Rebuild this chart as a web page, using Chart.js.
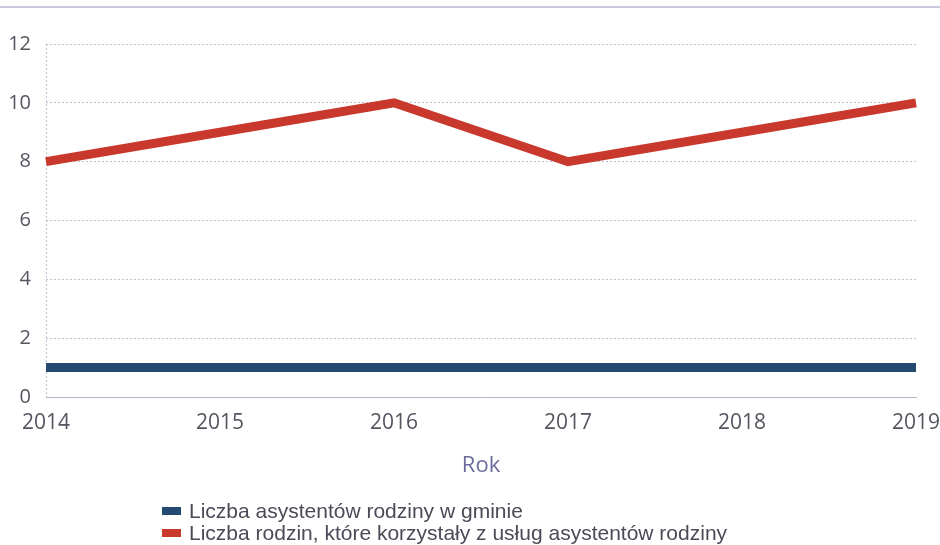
<!DOCTYPE html>
<html lang="pl">
<head>
<meta charset="utf-8">
<title>Asystenci rodziny</title>
<script src="https://cdn.jsdelivr.net/npm/chart.js@4.4.1/dist/chart.umd.min.js"></script>
<style>
  html, body { margin: 0; padding: 0; background: #ffffff; }
  #wrap { position: relative; width: 940px; height: 545px; overflow: hidden; }
  #topRule { position: absolute; left: 0; top: 6px; width: 940px; height: 2px; background: #c9cbdc; }
  #legend { position: absolute; left: 162px; top: 500px; font-family: "Liberation Sans", Arial, sans-serif; font-size: 21px; color: #4a4a58; line-height: 22px; }
  .item { display: flex; align-items: center; white-space: nowrap; }
  .swatch { display: inline-block; width: 19px; height: 8px; margin-right: 8px; }
</style>
</head>
<body>
<div id="wrap">
  <canvas id="lineChart" width="940" height="545"></canvas>
  <div id="topRule"></div>
  <div id="legend"></div>
</div>
<script>
// Years on the x axis
const years = ["2014", "2015", "2016", "2017", "2018", "2019"];

// Series values
const asystenci = [1, 1, 1, 1, 1, 1];
const rodziny = [8, 9, 10, 8, 9, 10];

const seriesLabels = [
  "Liczba asystentów rodziny w gminie",
  "Liczba rodzin, które korzystały z usług asystentów rodziny",
];
const seriesColors = ["#244a72", "#c8382d"];

const yTicks = [0, 2, 4, 6, 8, 10, 12];

document.addEventListener("DOMContentLoaded", function () {
  const ctx = document.getElementById("lineChart").getContext("2d");
  const gridColor = "rgba(150, 150, 180, 0.6)";

  new Chart(ctx, {
    type: "line",
    data: {
      labels: years,
      datasets: [
        {
          label: seriesLabels[0],
          data: asystenci,
          borderColor: seriesColors[0],
          borderWidth: 9,
          pointRadius: 0,
          borderCapStyle: "butt",
          tension: 0,
          clip: false,
        },
        {
          label: seriesLabels[1],
          data: rodziny,
          borderColor: seriesColors[1],
          borderWidth: 9,
          pointRadius: 0,
          borderCapStyle: "butt",
          borderJoinStyle: "miter",
          tension: 0,
          clip: false,
        },
      ],
    },
    options: {
      responsive: false,
      animation: false,
      layout: { padding: { top: 44, left: 0, right: 24, bottom: 62 } },
      plugins: {
        legend: { display: false },
        tooltip: { enabled: false },
      },
      scales: {
        x: {
          offset: false,
          afterFit: (scale) => {
            scale.height = 86;
            scale.paddingLeft = 0;
            scale.paddingRight = 0;
          },
          grid: {
            drawTicks: false,
            lineWidth: 1,
            color: (c) => (c.index === 0 ? gridColor : "rgba(0,0,0,0)"),
          },
          border: { display: true, color: "#b3b4c8", width: 1, dash: [2, 2] },
          ticks: {
            padding: 13,
            maxRotation: 0,
            color: "#555560",
            font: { family: "'Open Sans', 'Noto Sans', sans-serif", size: 21 },
          },
          title: {
            display: true,
            text: "Rok",
            color: "#6c6c9c",
            padding: { top: 0, bottom: 4 },
            font: { family: "'Open Sans', 'Noto Sans', sans-serif", size: 22 },
          },
        },
        y: {
          min: 0,
          max: 12,
          afterFit: (scale) => { scale.width = 46; },
          afterBuildTicks: (scale) => {
            scale.ticks = yTicks.map((v) => ({ value: v }));
          },
          grid: { drawTicks: false, color: gridColor, lineWidth: 1 },
          border: { display: false, dash: [2, 2] },
          ticks: {
            padding: 15,
            color: "#555560",
            font: { family: "'Open Sans', 'Noto Sans', sans-serif", size: 20 },
          },
        },
      },
    },
  });

  // Legend listed below the chart, one series per row
  const legend = document.getElementById("legend");
  seriesLabels.forEach((label, i) => {
    const row = document.createElement("div");
    row.className = "item";
    const sw = document.createElement("span");
    sw.className = "swatch";
    sw.style.background = seriesColors[i];
    row.appendChild(sw);
    row.appendChild(document.createTextNode(label));
    legend.appendChild(row);
  });
});
</script>
</body>
</html>
